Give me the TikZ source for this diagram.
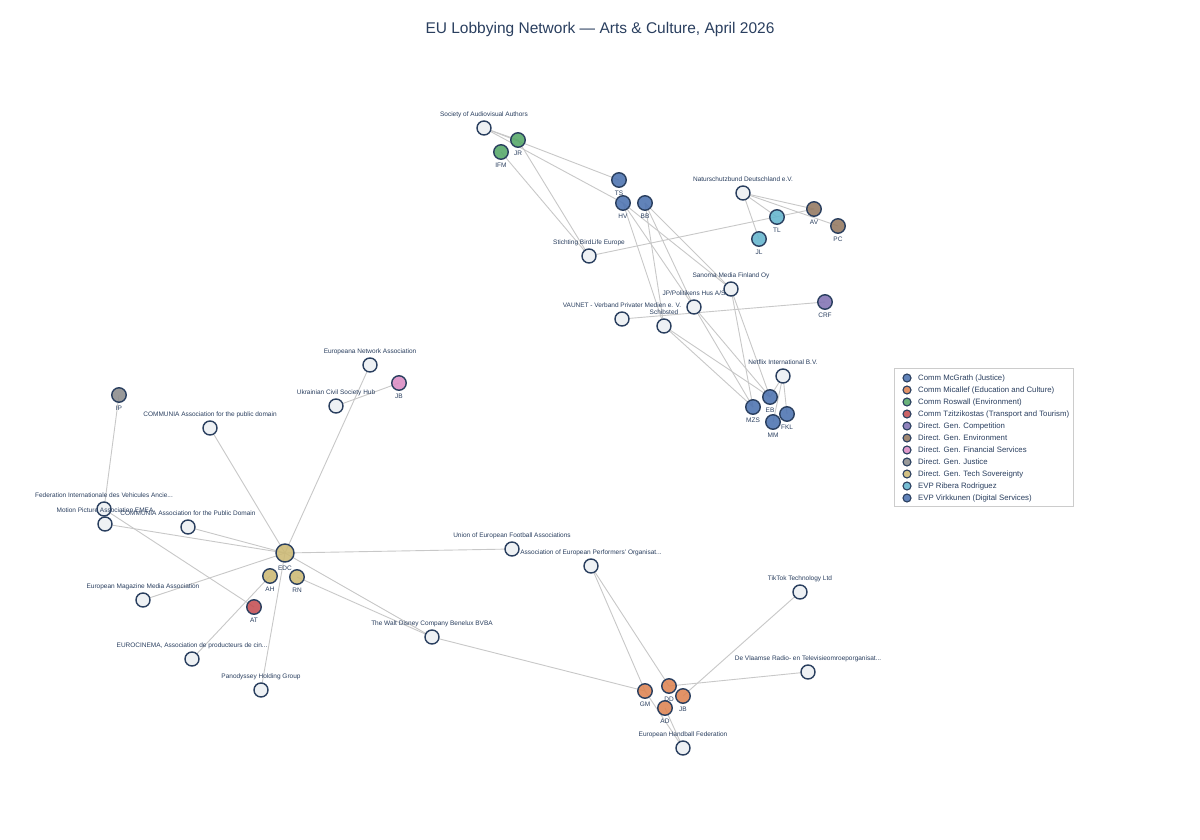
\documentclass[tikz,border=0pt]{standalone}
\usepackage{fontspec}
\setmainfont{Liberation Sans}
\usetikzlibrary{backgrounds}
\definecolor{outl}{HTML}{2A3F5F}
\definecolor{txt}{HTML}{2A3F5F}
\definecolor{orgfill}{HTML}{EEF1F4}
\definecolor{edgec}{HTML}{C8C8C8}
\definecolor{legb}{HTML}{CCCCCC}
\definecolor{cBlue}{HTML}{4C72B0}
\definecolor{cOrange}{HTML}{DD8452}
\definecolor{cGreen}{HTML}{55A868}
\definecolor{cRed}{HTML}{C44E52}
\definecolor{cPurple}{HTML}{8172B3}
\definecolor{cBrown}{HTML}{937860}
\definecolor{cPink}{HTML}{DA8BC3}
\definecolor{cGray}{HTML}{8C8C8C}
\definecolor{cYellow}{HTML}{CCB974}
\definecolor{cCyan}{HTML}{64B5CD}
\newcommand\OrgN[4]{\node[org] (#1) at (#2,#3) {}; \node[lab,anchor=base] (#1-t) at ([yshift=11.5pt]#1.center) {#4};}
\newcommand\OffN[5]{\node[off,fill=#4] (#1) at (#2,#3) {}; \node[lab,anchor=base] (#1-t) at ([yshift=-15.5pt]#1.center) {#5};}
\newcommand\LegI[4]{\node[legdot,fill=#3] (#1) at (907,#2) {}; \node[legtxt,anchor=base west] (#1-t) at ([xshift=11pt,yshift=-2.8pt]#1.center) {#4};}
\begin{document}
\begin{tikzpicture}[x=1pt,y=-1pt,
  org/.style={circle,draw=outl,line width=1.4pt,fill=orgfill,minimum size=14pt,inner sep=0pt},
  off/.style={circle,draw=outl,line width=1.4pt,fill opacity=0.88,minimum size=14.5pt,inner sep=0pt},
  big/.style={minimum size=18pt},
  lab/.style={font=\fontsize{6.5}{7.5}\selectfont,text=txt,inner sep=0pt},
  legdot/.style={circle,draw=outl,line width=1.1pt,fill opacity=0.88,minimum size=8pt,inner sep=0pt},
  legtxt/.style={font=\fontsize{7.8}{9}\selectfont,text=txt,inner sep=0pt},
  edge/.style={draw=edgec,line width=0.9pt}]
\useasboundingbox (0,0) rectangle (1200,840);
% title
\node[font=\fontsize{15.5}{18}\selectfont,text=txt,anchor=base] (title) at (600,33.5) {EU Lobbying Network — Arts \& Culture, April 2026};
% organisations
\OrgN{SAA}{484}{128}{Society of Audiovisual Authors}
\OrgN{SBE}{589}{256}{Stichting BirdLife Europe}
\OrgN{NABU}{743}{193}{Naturschutzbund Deutschland e.V.}
\OrgN{SAN}{731}{289}{Sanoma Media Finland Oy}
\OrgN{JPP}{694}{307}{JP/Politikens Hus A/S}
\OrgN{VAU}{622}{319}{VAUNET - Verband Privater Medien e. V.}
\OrgN{SCH}{664}{326}{Schibsted}
\OrgN{NFX}{783}{376}{Netflix International B.V.}
\OrgN{ENA}{370}{365}{Europeana Network Association}
\OrgN{UCS}{336}{406}{Ukrainian Civil Society Hub}
\OrgN{COMa}{210}{428}{COMMUNIA Association for the public domain}
\OrgN{FIVA}{104}{509}{Federation Internationale des Vehicules Ancie...}
\OrgN{MPA}{105}{524}{Motion Picture Association EMEA}
\OrgN{COMb}{188}{527}{COMMUNIA Association for the Public Domain}
\OrgN{EMMA}{143}{600}{European Magazine Media Association}
\OrgN{ECIN}{192}{659}{EUROCINEMA, Association de producteurs de cin...}
\OrgN{PAN}{261}{690}{Panodyssey Holding Group}
\OrgN{UEFA}{512}{549}{Union of European Football Associations}
\OrgN{AEPO}{591}{566}{Association of European Performers' Organisat...}
\OrgN{WDC}{432}{637}{The Walt Disney Company Benelux BVBA}
\OrgN{TTK}{800}{592}{TikTok Technology Ltd}
\OrgN{VRT}{808}{672}{De Vlaamse Radio- en Televisieomroeporganisat...}
\OrgN{EHF}{683}{748}{European Handball Federation}
% officials
\OffN{JR}{518}{140}{cGreen}{JR}
\OffN{IFM}{501}{152}{cGreen}{IFM}
\OffN{TS}{619}{180}{cBlue}{TS}
\OffN{HV}{623}{203}{cBlue}{HV}
\OffN{BB}{645}{203}{cBlue}{BB}
\OffN{TL}{777}{217}{cCyan}{TL}
\OffN{JL}{759}{239}{cCyan}{JL}
\OffN{AV}{814}{209}{cBrown}{AV}
\OffN{PC}{838}{226}{cBrown}{PC}
\OffN{CRF}{825}{302}{cPurple}{CRF}
\OffN{EB}{770}{397}{cBlue}{EB}
\OffN{MZS}{753}{407}{cBlue}{MZS}
\OffN{FKL}{787}{414}{cBlue}{FKL}
\OffN{MM}{773}{422}{cBlue}{MM}
\OffN{IP}{119}{395}{cGray}{IP}
\OffN{JBp}{399}{383}{cPink}{JB}
\node[off,big,fill=cYellow] (EDC) at (285,553) {};
\node[lab,anchor=base] (EDC-t) at ([yshift=-17pt]EDC.center) {EDC};
\OffN{AH}{270}{576}{cYellow}{AH}
\OffN{RN}{297}{577}{cYellow}{RN}
\OffN{AT}{254}{607}{cRed}{AT}
\OffN{GM}{645}{691}{cOrange}{GM}
\OffN{DD}{669}{686}{cOrange}{DD}
\OffN{JBo}{683}{696}{cOrange}{JB}
\OffN{AD}{665}{708}{cOrange}{AD}
% edges
\begin{pgfonlayer}{background}
\fill[white] (0,0) rectangle (1200,840);
\foreach \a/\b in {SAA/JR,SAA/TS,SAA/HV,JR/SBE,IFM/SBE,SBE/AV,NABU/JL,NABU/TL,NABU/AV,NABU/PC,
  HV/SCH,BB/SCH,HV/JPP,BB/JPP,HV/SAN,BB/SAN,SAN/MZS,SAN/EB,JPP/MZS,JPP/EB,SCH/MZS,SCH/EB,
  NFX/EB,NFX/MM,NFX/FKL,VAU/CRF,IP/FIVA,FIVA/AT,MPA/EDC,COMb/EDC,COMa/EDC,ENA/EDC,UCS/JBp,
  EMMA/EDC,ECIN/AH,PAN/EDC,EDC/UEFA,EDC/WDC,RN/WDC,WDC/GM,AEPO/GM,AEPO/DD,GM/EHF,AD/EHF,DD/VRT,JBo/TTK}
  \draw[edge] (\a.center) -- (\b.center);
\end{pgfonlayer}
% legend
\node[draw=legb,line width=0.8pt,minimum width=179pt,minimum height=138pt,inner sep=0pt,anchor=north west] (leg) at (894,368) {};
\LegI{L1}{378}{cBlue}{Comm McGrath (Justice)}
\LegI{L2}{390}{cOrange}{Comm Micallef (Education and Culture)}
\LegI{L3}{402}{cGreen}{Comm Roswall (Environment)}
\LegI{L4}{414}{cRed}{Comm Tzitzikostas (Transport and Tourism)}
\LegI{L5}{426}{cPurple}{Direct. Gen. Competition}
\LegI{L6}{438}{cBrown}{Direct. Gen. Environment}
\LegI{L7}{450}{cPink}{Direct. Gen. Financial Services}
\LegI{L8}{462}{cGray}{Direct. Gen. Justice}
\LegI{L9}{474}{cYellow}{Direct. Gen. Tech Sovereignty}
\LegI{L10}{486}{cCyan}{EVP Ribera Rodriguez}
\LegI{L11}{498}{cBlue}{EVP Virkkunen (Digital Services)}
\end{tikzpicture}
\end{document}
